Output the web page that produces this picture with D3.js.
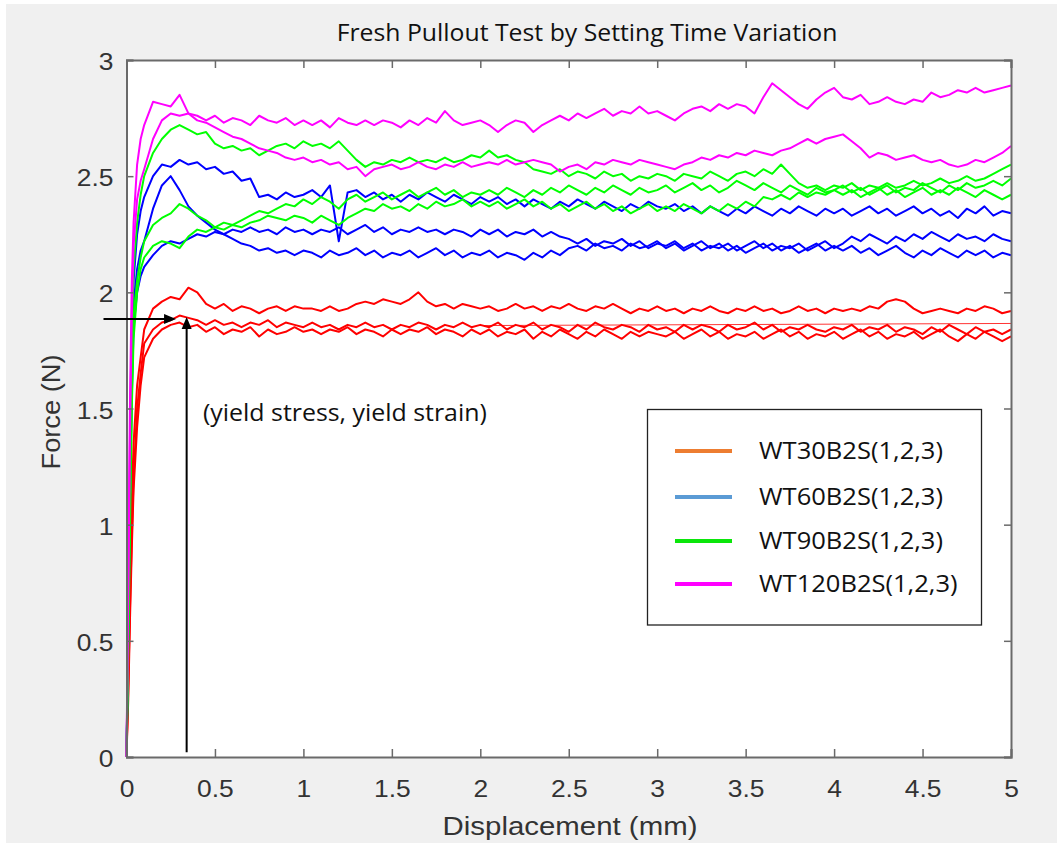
<!DOCTYPE html>
<html><head><meta charset="utf-8">
<script src="https://cdn.jsdelivr.net/npm/d3@7"></script>
<style>body{margin:0;background:#fff}svg{display:block}</style>
</head><body>
<svg id="c" width="1057" height="843"></svg>
<script>
// ---------------- DATA ----------------
const titleText = "Fresh Pullout Test by Setting Time Variation";
const xLabel = "Displacement (mm)";
const yLabel = "Force (N)";
const xTicks = [0,0.5,1,1.5,2,2.5,3,3.5,4,4.5,5];
const yTicks = [0,0.5,1,1.5,2,2.5,3];
const legendLabels = ["WT30B2S(1,2,3)","WT60B2S(1,2,3)","WT90B2S(1,2,3)","WT120B2S(1,2,3)"];
const legendColors = ["#ED7D31","#5B9BD5","#0BE60B","#FF00FF"];
const groupColors = ["#FF0000","#0000FF","#00FF00","#FF00FF"];
const annotationText = "(yield stress, yield strain)";
const yieldPoint = {x:0.34, y:1.89};

// displacement samples (mm)
const disp = [0,0.01,0.02,0.03,0.04,0.06,0.08,0.1,
 0.15,0.2,0.25,0.3,0.35,0.4,0.45,0.5,0.55,0.6,0.65,0.7,0.75,0.8,0.85,0.9,0.95,1.0,
 1.05,1.1,1.15,1.2,1.25,1.3,1.35,1.4,1.45,1.5,1.55,1.6,1.65,1.7,1.75,1.8,1.85,1.9,1.95,2.0,
 2.05,2.1,2.15,2.2,2.25,2.3,2.35,2.4,2.45,2.5,2.55,2.6,2.65,2.7,2.75,2.8,2.85,2.9,2.95,3.0,
 3.05,3.1,3.15,3.2,3.25,3.3,3.35,3.4,3.45,3.5,3.55,3.6,3.65,3.7,3.75,3.8,3.85,3.9,3.95,4.0,
 4.05,4.1,4.15,4.2,4.25,4.3,4.35,4.4,4.45,4.5,4.55,4.6,4.65,4.7,4.75,4.8,4.85,4.9,4.95,5.0];

// WT30B2S (red)
const wt30_1 = [0,0.35,0.75,1.1,1.35,1.6,1.72,1.84,
 1.93,1.96,1.98,1.97,2.02,2.0,1.95,1.93,1.95,1.92,1.94,1.93,1.91,1.93,1.94,1.92,1.94,1.93,
 1.93,1.92,1.94,1.92,1.93,1.95,1.96,1.95,1.97,1.96,1.95,1.97,2.0,1.96,1.94,1.95,1.93,1.95,1.94,1.93,
 1.94,1.92,1.93,1.95,1.93,1.94,1.92,1.94,1.93,1.95,1.93,1.92,1.94,1.93,1.95,1.93,1.91,1.93,1.92,1.94,
 1.92,1.93,1.91,1.93,1.92,1.94,1.92,1.91,1.93,1.92,1.94,1.92,1.93,1.91,1.92,1.94,1.92,1.93,1.91,1.93,
 1.92,1.93,1.92,1.94,1.93,1.96,1.97,1.96,1.93,1.91,1.92,1.93,1.92,1.91,1.93,1.92,1.94,1.93,1.91,1.92];
const wt30_2 = [0,0.3,0.65,0.95,1.2,1.5,1.65,1.78,
 1.84,1.87,1.88,1.9,1.89,1.88,1.86,1.88,1.86,1.87,1.85,1.87,1.86,1.88,1.85,1.87,1.86,1.85,
 1.87,1.85,1.86,1.84,1.86,1.85,1.87,1.85,1.86,1.84,1.86,1.85,1.87,1.86,1.84,1.86,1.85,1.87,1.85,1.86,
 1.85,1.87,1.84,1.86,1.85,1.87,1.84,1.86,1.85,1.83,1.86,1.84,1.87,1.85,1.84,1.86,1.85,1.83,1.86,1.84,
 1.85,1.83,1.86,1.84,1.86,1.85,1.83,1.86,1.84,1.85,1.87,1.84,1.86,1.83,1.85,1.84,1.86,1.84,1.83,1.85,
 1.84,1.86,1.83,1.85,1.84,1.86,1.83,1.85,1.84,1.82,1.85,1.83,1.86,1.84,1.82,1.85,1.83,1.84,1.82,1.84];
const wt30_3 = [0,0.25,0.6,0.9,1.15,1.42,1.6,1.72,
 1.8,1.84,1.86,1.87,1.85,1.86,1.83,1.85,1.82,1.84,1.83,1.85,1.81,1.84,1.82,1.83,1.85,1.83,
 1.84,1.82,1.84,1.83,1.85,1.82,1.84,1.83,1.81,1.84,1.82,1.84,1.83,1.85,1.82,1.84,1.83,1.81,1.84,1.82,
 1.84,1.81,1.83,1.82,1.84,1.8,1.83,1.81,1.84,1.82,1.8,1.83,1.81,1.84,1.82,1.8,1.83,1.81,1.83,1.82,
 1.81,1.83,1.8,1.82,1.84,1.81,1.83,1.8,1.82,1.81,1.83,1.8,1.82,1.84,1.81,1.83,1.8,1.82,1.81,1.83,
 1.8,1.82,1.84,1.81,1.83,1.8,1.82,1.81,1.83,1.8,1.82,1.84,1.81,1.79,1.82,1.8,1.83,1.81,1.79,1.81];
// thin smooth red trace seen from ~2 mm onward
const wt30_traceX = [2.0, 5.0];
const wt30_traceY = [1.857, 1.866];

// WT60B2S (blue)
const wt60_1 = [0,0.6,1.25,1.75,2.05,2.25,2.35,2.41,
 2.5,2.55,2.54,2.57,2.55,2.56,2.53,2.54,2.51,2.52,2.48,2.49,2.41,2.42,2.4,2.43,2.41,2.42,
 2.44,2.41,2.46,2.22,2.43,2.44,2.41,2.43,2.4,2.42,2.39,2.42,2.4,2.43,2.41,2.39,2.42,2.4,2.38,2.41,
 2.39,2.41,2.38,2.4,2.37,2.4,2.38,2.36,2.39,2.37,2.4,2.38,2.36,2.39,2.37,2.35,2.38,2.36,2.39,2.37,
 2.36,2.38,2.35,2.37,2.34,2.37,2.35,2.33,2.36,2.34,2.37,2.35,2.33,2.36,2.34,2.37,2.35,2.33,2.36,2.34,
 2.36,2.33,2.35,2.37,2.34,2.36,2.33,2.35,2.37,2.34,2.36,2.33,2.35,2.32,2.36,2.34,2.37,2.33,2.35,2.34];
const wt60_2 = [0,0.55,1.15,1.65,1.95,2.1,2.18,2.22,
 2.36,2.46,2.5,2.44,2.37,2.33,2.3,2.27,2.25,2.23,2.21,2.2,2.18,2.19,2.17,2.18,2.16,2.18,
 2.17,2.15,2.18,2.16,2.17,2.19,2.16,2.18,2.15,2.17,2.16,2.18,2.15,2.17,2.19,2.16,2.18,2.15,2.17,2.16,
 2.18,2.15,2.17,2.16,2.14,2.17,2.15,2.18,2.16,2.19,2.2,2.18,2.21,2.19,2.2,2.18,2.21,2.19,2.2,2.22,
 2.19,2.21,2.18,2.2,2.22,2.19,2.21,2.18,2.2,2.17,2.19,2.21,2.18,2.2,2.19,2.21,2.18,2.2,2.22,2.19,
 2.21,2.24,2.22,2.25,2.23,2.21,2.24,2.22,2.25,2.23,2.26,2.24,2.22,2.25,2.23,2.24,2.22,2.25,2.23,2.22];
const wt60_3 = [0,0.5,1.1,1.55,1.85,2.0,2.07,2.11,
 2.16,2.2,2.22,2.21,2.23,2.25,2.24,2.26,2.25,2.27,2.26,2.28,2.26,2.27,2.25,2.28,2.26,2.27,
 2.25,2.27,2.26,2.28,2.25,2.27,2.29,2.26,2.28,2.25,2.27,2.26,2.28,2.26,2.27,2.25,2.27,2.26,2.24,2.27,
 2.25,2.27,2.24,2.26,2.25,2.27,2.24,2.26,2.24,2.23,2.21,2.23,2.2,2.22,2.21,2.23,2.2,2.22,2.19,2.21,
 2.2,2.22,2.19,2.21,2.18,2.2,2.19,2.21,2.18,2.2,2.22,2.19,2.21,2.18,2.2,2.17,2.19,2.21,2.18,2.2,
 2.18,2.2,2.17,2.19,2.16,2.18,2.2,2.17,2.15,2.18,2.16,2.19,2.17,2.15,2.18,2.16,2.18,2.15,2.17,2.16];

// WT90B2S (green)
const wt90_1 = [0,0.6,1.3,1.8,2.1,2.3,2.42,2.5,
 2.6,2.66,2.7,2.72,2.7,2.68,2.69,2.64,2.62,2.63,2.61,2.62,2.59,2.61,2.63,2.64,2.62,2.65,
 2.63,2.64,2.62,2.65,2.61,2.57,2.54,2.56,2.55,2.57,2.56,2.58,2.56,2.57,2.56,2.58,2.56,2.57,2.59,2.58,
 2.61,2.58,2.59,2.57,2.56,2.53,2.52,2.51,2.53,2.5,2.52,2.51,2.49,2.52,2.5,2.51,2.48,2.5,2.49,2.51,
 2.5,2.48,2.51,2.5,2.49,2.52,2.5,2.48,2.51,2.52,2.5,2.53,2.51,2.55,2.51,2.47,2.45,2.46,2.44,2.46,
 2.45,2.47,2.44,2.46,2.45,2.47,2.45,2.46,2.48,2.46,2.47,2.49,2.47,2.48,2.5,2.48,2.49,2.51,2.53,2.55];
const wt90_2 = [0,0.5,1.1,1.6,1.9,2.05,2.15,2.22,
 2.29,2.32,2.34,2.38,2.36,2.33,2.31,2.28,2.3,2.29,2.31,2.33,2.35,2.34,2.36,2.38,2.37,2.4,
 2.38,2.41,2.39,2.36,2.4,2.42,2.39,2.41,2.43,2.4,2.42,2.44,2.41,2.43,2.45,2.42,2.44,2.41,2.43,2.42,
 2.44,2.42,2.45,2.43,2.41,2.44,2.42,2.45,2.43,2.46,2.44,2.42,2.45,2.43,2.46,2.44,2.42,2.45,2.43,2.44,
 2.46,2.43,2.45,2.47,2.44,2.46,2.43,2.45,2.48,2.46,2.44,2.47,2.45,2.43,2.46,2.44,2.42,2.45,2.43,2.44,
 2.46,2.43,2.45,2.42,2.44,2.46,2.43,2.45,2.44,2.47,2.45,2.43,2.46,2.44,2.47,2.45,2.46,2.48,2.46,2.49];
const wt90_3 = [0,0.45,1.0,1.5,1.8,2.0,2.1,2.15,
 2.2,2.22,2.21,2.19,2.24,2.27,2.26,2.28,2.27,2.29,2.28,2.3,2.31,2.33,2.32,2.31,2.33,2.32,
 2.3,2.33,2.31,2.29,2.32,2.34,2.36,2.35,2.38,2.36,2.37,2.35,2.38,2.36,2.39,2.37,2.38,2.4,2.37,2.39,
 2.37,2.39,2.36,2.38,2.4,2.37,2.39,2.36,2.38,2.35,2.37,2.39,2.36,2.38,2.35,2.37,2.34,2.36,2.38,2.35,
 2.37,2.35,2.38,2.36,2.34,2.37,2.35,2.38,2.36,2.39,2.37,2.41,2.4,2.42,2.4,2.43,2.41,2.43,2.42,2.44,
 2.42,2.44,2.41,2.43,2.45,2.42,2.44,2.41,2.43,2.45,2.42,2.44,2.42,2.45,2.43,2.41,2.44,2.42,2.4,2.42];

// WT120B2S (magenta)
const wt120_1 = [0,0.8,1.55,2.05,2.3,2.55,2.66,2.72,
 2.82,2.81,2.8,2.85,2.77,2.76,2.74,2.76,2.73,2.75,2.74,2.72,2.76,2.74,2.73,2.75,2.72,2.74,
 2.72,2.74,2.71,2.75,2.73,2.72,2.74,2.72,2.74,2.73,2.71,2.74,2.72,2.75,2.73,2.78,2.74,2.72,2.73,2.74,
 2.72,2.69,2.72,2.74,2.73,2.69,2.72,2.74,2.76,2.74,2.77,2.75,2.77,2.79,2.76,2.78,2.77,2.8,2.77,2.78,
 2.76,2.74,2.77,2.79,2.8,2.78,2.81,2.79,2.81,2.8,2.77,2.84,2.9,2.87,2.84,2.81,2.79,2.83,2.86,2.88,
 2.84,2.83,2.85,2.81,2.82,2.84,2.82,2.81,2.83,2.82,2.86,2.84,2.85,2.87,2.86,2.88,2.86,2.87,2.88,2.89];
const wt120_2 = [0,0.7,1.4,1.9,2.2,2.4,2.48,2.53,
 2.66,2.74,2.77,2.76,2.77,2.74,2.73,2.71,2.69,2.67,2.66,2.64,2.62,2.61,2.6,2.58,2.57,2.58,
 2.56,2.57,2.55,2.56,2.53,2.54,2.5,2.53,2.54,2.55,2.53,2.54,2.56,2.54,2.53,2.55,2.54,2.56,2.54,2.55,
 2.56,2.55,2.57,2.55,2.56,2.57,2.56,2.55,2.52,2.54,2.55,2.53,2.56,2.55,2.57,2.56,2.55,2.57,2.56,2.55,
 2.54,2.53,2.55,2.56,2.58,2.57,2.59,2.58,2.6,2.59,2.61,2.6,2.59,2.61,2.62,2.64,2.66,2.64,2.66,2.67,
 2.68,2.65,2.62,2.58,2.6,2.59,2.57,2.58,2.59,2.57,2.56,2.57,2.55,2.54,2.55,2.57,2.56,2.58,2.6,2.63];

const groups = [
  [wt30_1, wt30_2, wt30_3],
  [wt60_1, wt60_2, wt60_3],
  [wt90_1, wt90_2, wt90_3],
  [wt120_1, wt120_2]
];

// ---------------- DRAW ----------------
const svg = d3.select("#c");
const W = 1057, H = 843;
const M = {l:126.5, r:1011, t:60, b:757};
svg.append("rect").attr("x",6).attr("y",4).attr("width",W-6).attr("height",H-4).attr("fill","#f0f0f0");

const x = d3.scaleLinear().domain([0,5]).range([M.l, M.r]);
const y = d3.scaleLinear().domain([0,3]).range([M.b, M.t]);

svg.append("rect").attr("x",M.l).attr("y",M.t).attr("width",M.r-M.l).attr("height",M.b-M.t).attr("fill","#fff");

const line = d3.line().x((d,i)=>x(disp[i])).y(d=>y(d));
const plot = svg.append("g");
groups.forEach((g,gi)=>{
  g.forEach(s=>{
    plot.append("path").datum(s).attr("d",line).attr("fill","none")
      .attr("stroke",groupColors[gi]).attr("stroke-width",2).attr("stroke-linejoin","round");
  });
  if (gi === 0) {
    const tl = d3.line().x((d,i)=>x(wt30_traceX[i])).y(d=>y(d));
    plot.append("path").datum(wt30_traceY).attr("d",tl).attr("fill","none")
      .attr("stroke",groupColors[0]).attr("stroke-width",1).attr("opacity",0.8);
  }
});

// axes (MATLAB box style, ticks inside)
const axCol = "#6a6a6a", txtCol = "#333";
const tickFmt = d3.format("");
const gx = svg.append("g").attr("transform",`translate(0,${M.b})`)
  .call(d3.axisBottom(x).tickValues(xTicks).tickFormat(tickFmt).tickSize(-8).tickPadding(23));
const gxt = svg.append("g").attr("transform",`translate(0,${M.t})`)
  .call(d3.axisTop(x).tickValues(xTicks).tickFormat("").tickSize(-8));
const gy = svg.append("g").attr("transform",`translate(${M.l},0)`)
  .call(d3.axisLeft(y).tickValues(yTicks).tickFormat(tickFmt).tickSize(-7).tickPadding(13));
const gyr = svg.append("g").attr("transform",`translate(${M.r},0)`)
  .call(d3.axisRight(y).tickValues(yTicks).tickFormat("").tickSize(-7));
[gx,gxt,gy,gyr].forEach(g=>{
  g.select(".domain").attr("stroke",axCol).attr("stroke-width",2);
  g.selectAll(".tick line").attr("stroke",axCol).attr("stroke-width",1.5);
});
const SX = 1.1;
gx.selectAll("text").attr("fill",txtCol).style("font-family","'Liberation Sans', Arial, sans-serif")
  .style("font-size","24px").attr("transform",`scale(${SX},1)`);
gy.selectAll("text").attr("fill",txtCol).style("font-family","'Liberation Sans', Arial, sans-serif")
  .style("font-size","24px").attr("x",-13/SX).attr("dy","0.4em").attr("transform",`scale(${SX},1)`);

function fitText(t, width){
  const w = t.node().getComputedTextLength();
  return width / w;
}

// title
const tt = svg.append("text").text(titleText).attr("text-anchor","middle")
  .style("font-family","'Open Sans', sans-serif").style("font-size","23px").attr("fill","#111");
tt.attr("transform",`translate(587,41) scale(${fitText(tt,501)},1)`);

// x label
const xl = svg.append("text").text(xLabel).attr("text-anchor","middle")
  .style("font-family","'Liberation Sans', Arial, sans-serif").style("font-size","25.5px").attr("fill",txtCol);
xl.attr("transform",`translate(570,835) scale(${fitText(xl,255)},1)`);

// y label
const yl = svg.append("text").text(yLabel).attr("text-anchor","middle")
  .style("font-family","'Liberation Sans', Arial, sans-serif").style("font-size","25.5px").attr("fill",txtCol);
yl.attr("transform",`translate(60,412) rotate(-90) scale(${fitText(yl,115)},1)`);

// annotation arrows
const arrowCol = "#000";
const hx0 = x(-0.13), hx1 = x(0.28), hy = y(1.885);
svg.append("line").attr("x1",hx0).attr("y1",hy).attr("x2",hx1-10).attr("y2",hy).attr("stroke",arrowCol).attr("stroke-width",2);
svg.append("path").attr("d",`M${hx1},${hy} L${hx1-12},${hy-5} L${hx1-12},${hy+5} Z`).attr("fill",arrowCol);
const vx = x(yieldPoint.x), vy0 = y(0.02), vy1 = y(1.894);
svg.append("line").attr("x1",vx).attr("y1",vy0).attr("x2",vx).attr("y2",vy1+10).attr("stroke",arrowCol).attr("stroke-width",2);
svg.append("path").attr("d",`M${vx},${vy1} L${vx-5},${vy1+12} L${vx+5},${vy1+12} Z`).attr("fill",arrowCol);

const at = svg.append("text").text(annotationText)
  .style("font-family","'Open Sans', sans-serif").style("font-size","23px").attr("fill","#111");
at.attr("transform",`translate(203,421) scale(${fitText(at,284)},1)`);

// legend
const lg = svg.append("g");
lg.append("rect").attr("x",647.5).attr("y",409.5).attr("width",334).attr("height",215.5)
  .attr("fill","#fff").attr("stroke","#222").attr("stroke-width",1.3);
const rowsY = [451, 497, 541, 584];
let lsx = null;
legendLabels.forEach((lab,i)=>{
  lg.append("line").attr("x1",675).attr("x2",732).attr("y1",rowsY[i]).attr("y2",rowsY[i])
    .attr("stroke",legendColors[i]).attr("stroke-width",4);
  const t = lg.append("text").text(lab)
    .style("font-family","'Open Sans', sans-serif").style("font-size","24.5px").attr("fill","#111");
  if (lsx === null) lsx = fitText(t,184);
  t.attr("transform",`translate(759,${rowsY[i]+8}) scale(${lsx},1)`);
});
</script>
</body></html>
